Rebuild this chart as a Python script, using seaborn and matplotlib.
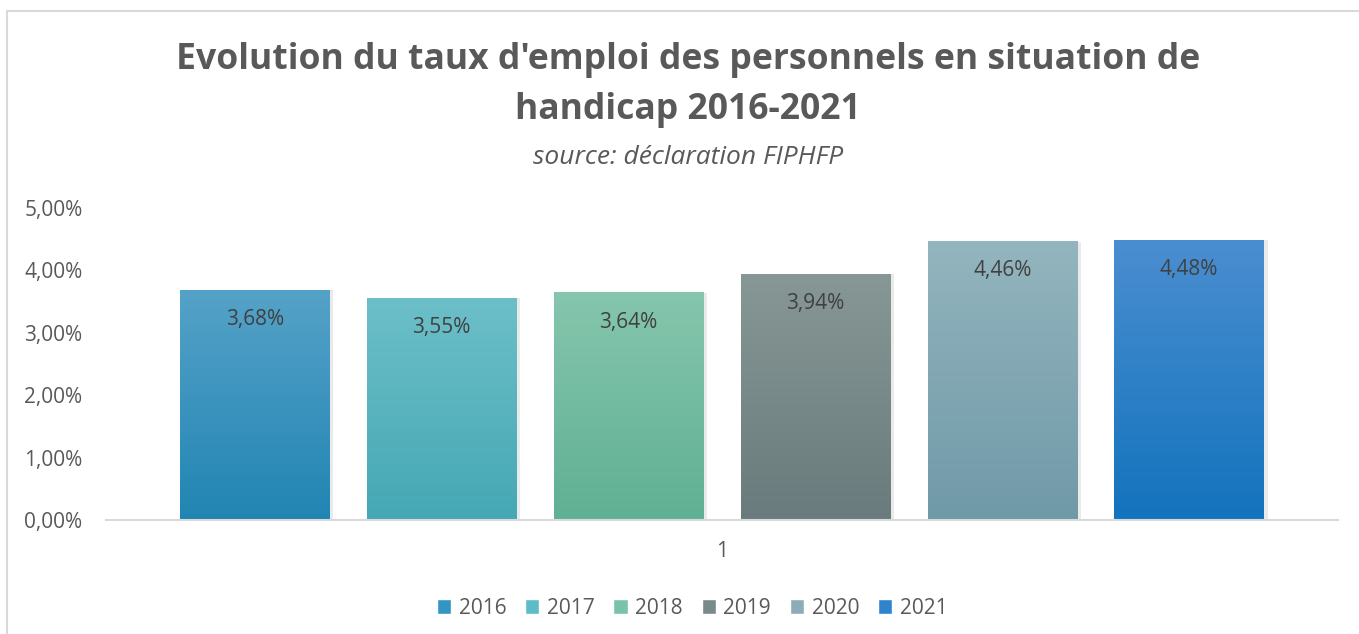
import pandas as pd
import seaborn as sns
import matplotlib.pyplot as plt
import numpy as np
from matplotlib.colors import LinearSegmentedColormap
from matplotlib.patches import Rectangle

# Data
years = ['2016', '2017', '2018', '2019', '2020', '2021']
rates = [3.68, 3.55, 3.64, 3.94, 4.46, 4.48]
category = ['1'] * 6

# colours: legend (mid), gradient top and bottom
mid_colors = ['#3396c2', '#5dbcc8', '#79c4a8', '#788a8a', '#8cadb8', '#3084ce']
top_colors = ['#55a2c8', '#6cbfc8', '#85c6ad', '#869795', '#93b5be', '#4a8ed0']
bot_colors = ['#2185b3', '#45a8b4', '#60b094', '#6a7b7d', '#7099a8', '#1373bd']

df = pd.DataFrame({'cat': category, 'annee': years, 'taux': rates})

sns.set_style('white')
plt.rcParams['font.family'] = ['Open Sans', 'DejaVu Sans']

fig = plt.figure(figsize=(13.59, 6.34), dpi=100)
ax = fig.add_axes([106 / 1359, 1 - 520 / 634, (1338 - 106) / 1359, (520 - 208) / 634])

sns.barplot(data=df, x='cat', y='taux', hue='annee', palette=mid_colors, saturation=1,
            width=0.91, gap=0.2, ax=ax, legend=True)

ax.set_ylim(0, 5)
ax.set_xlim(-0.5, 0.5)

# gradient fill on each bar
bars = [p for p in ax.patches if p.get_height() > 0]
bars = sorted(bars, key=lambda p: p.get_x())
for p, c_top, c_bot in zip(bars, top_colors, bot_colors):
    x0, y0 = p.get_x(), p.get_y()
    w, h = p.get_width(), p.get_height()
    cmap = LinearSegmentedColormap.from_list('g', [c_bot, c_top])
    grad = np.linspace(0, 1, 100).reshape(-1, 1)
    ax.imshow(grad, cmap=cmap, origin='lower', aspect='auto',
              extent=(x0, x0 + w, y0, y0 + h), zorder=2.5)
    # soft shadow on the right
    ax.add_patch(Rectangle((x0 + w, y0), 0.003, h, color='#d6d6d6', alpha=0.5, zorder=2, lw=0))

ax.set_xlim(-0.5, 0.5)
ax.set_ylim(0, 5)

for p, v in zip(bars, rates):
    ax.annotate(f'{v:.2f}%'.replace('.', ','), (p.get_x() + p.get_width() / 2, p.get_height()),
                xytext=(0, -21), textcoords='offset points', ha='center', va='center',
                fontsize=15, color='#404040', zorder=4)

ax.yaxis.set_major_formatter(plt.FuncFormatter(lambda v, pos: f'{v:.2f}%'.replace('.', ',')))
ax.set_yticks([0, 1, 2, 3, 4, 5])
ax.tick_params(axis='y', labelsize=15, labelcolor='#595959', length=0, pad=17)
ax.tick_params(axis='x', labelsize=15, labelcolor='#595959', length=0, pad=15)
ax.set_xlabel('')
ax.set_ylabel('')
for s in ['top', 'right', 'left']:
    ax.spines[s].set_visible(False)
ax.spines['bottom'].set_color('#d9d9d9')
ax.spines['bottom'].set_linewidth(1.5)

handles, labels = ax.get_legend_handles_labels()
ax.legend(handles, labels, loc='center', bbox_to_anchor=(692 / 1359, 1 - 608 / 634),
          bbox_transform=fig.transFigure, ncol=6, frameon=False, fontsize=15,
          handlelength=0.7, handleheight=0.7, handletextpad=0.35, columnspacing=0.9,
          labelcolor='#595959')

fig.text(688 / 1359, 1 - 60 / 634, "Evolution du taux d'emploi des personnels en situation de",
         ha='center', va='center', fontsize=25.6, fontweight='bold', color='#595959')
fig.text(688 / 1359, 1 - 110 / 634, 'handicap 2016-2021',
         ha='center', va='center', fontsize=25.6, fontweight='bold', color='#595959')
fig.text(688 / 1359, 1 - 157 / 634, 'source: déclaration FIPHFP',
         ha='center', va='center', fontsize=19, style='italic', color='#595959')

# outer chart border
fig.add_artist(Rectangle((7 / 1359, -0.1), 1.2, 1 - 11 / 634 + 0.1, transform=fig.transFigure,
                         fill=False, edgecolor='#d9d9d9', lw=1.5))

fig.savefig('out.png', dpi=100)
